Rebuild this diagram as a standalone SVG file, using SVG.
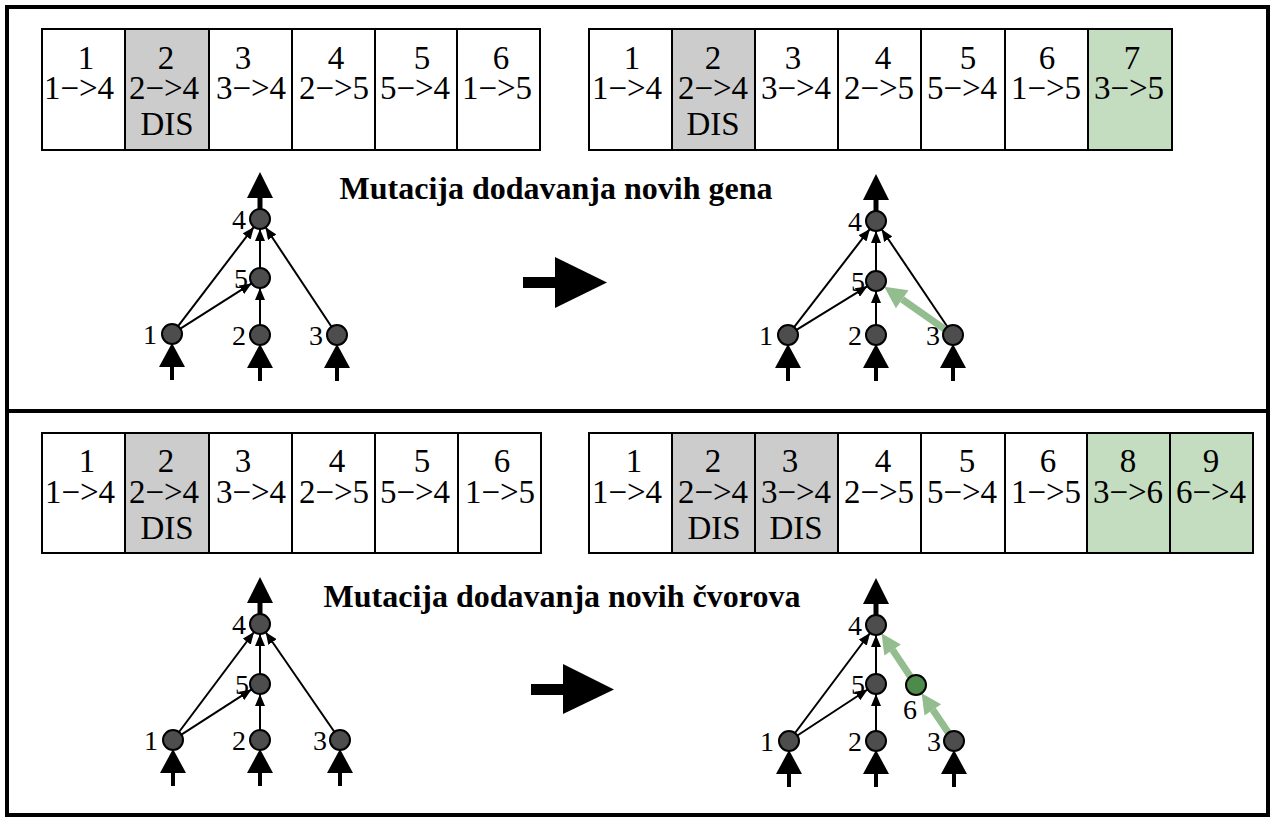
<svg xmlns="http://www.w3.org/2000/svg" width="1277" height="824" viewBox="0 0 1277 824">
<style>
.frame{fill:none;stroke:#000;stroke-width:4}
.cell{fill:#fff;stroke:#000;stroke-width:2}
.dis{fill:#cccccc;stroke:#000;stroke-width:2}
.new{fill:#c4dcc0;stroke:#000;stroke-width:2}
.ct{font-family:"Liberation Serif","Times New Roman",serif;font-size:33px;text-anchor:middle;fill:#000}
.title{font-family:"Liberation Serif","Times New Roman",serif;font-size:32px;font-weight:bold;text-anchor:middle;fill:#000}
.lbl{font-family:"Liberation Serif","Times New Roman",serif;font-size:28px;text-anchor:end;fill:#000}
.node{fill:#4d4d4d;stroke:#000;stroke-width:2}
.gnode{fill:#4e8a4a;stroke:#000;stroke-width:2}
.edge{stroke:#000;stroke-width:2;fill:none;marker-end:url(#ah)}
.gedge{stroke:#93bd8f;stroke-width:7;fill:none}
.ghead{fill:#93bd8f}
.blk{fill:#000}
</style>
<defs>
<marker id="ah" markerUnits="userSpaceOnUse" markerWidth="12" markerHeight="10" refX="12" refY="5" orient="auto">
<path d="M0,0 L12,5 L0,10 z" fill="#000"/>
</marker>
</defs>
<rect width="1277" height="824" fill="#fff"/>
<rect class="frame" x="7" y="7" width="1261" height="404"/>
<rect class="frame" x="7" y="411" width="1261" height="404"/>

<!-- top-left table -->
<g id="table-tl">
<rect class="cell" x="42" y="29" width="83" height="121"/>
<rect class="dis" x="125" y="29" width="84" height="121"/>
<rect class="cell" x="209" y="29" width="83" height="121"/>
<rect class="cell" x="292" y="29" width="83" height="121"/>
<rect class="cell" x="375" y="29" width="82" height="121"/>
<rect class="cell" x="457" y="29" width="83" height="121"/>
<text class="ct" x="86" y="69">1</text><text class="ct" x="79" y="99">1−&gt;4</text>
<text class="ct" x="166" y="69">2</text><text class="ct" x="164" y="99">2−&gt;4</text><text class="ct" x="167" y="135">DIS</text>
<text class="ct" x="243" y="69">3</text><text class="ct" x="251" y="99">3−&gt;4</text>
<text class="ct" x="336" y="69">4</text><text class="ct" x="334" y="99">2−&gt;5</text>
<text class="ct" x="422" y="69">5</text><text class="ct" x="415" y="99">5−&gt;4</text>
<text class="ct" x="501" y="69">6</text><text class="ct" x="497" y="99">1−&gt;5</text>
</g>

<!-- top-right table -->
<g id="table-tr">
<rect class="cell" x="589" y="29" width="83" height="121"/>
<rect class="dis" x="672" y="29" width="83" height="121"/>
<rect class="cell" x="755" y="29" width="83" height="121"/>
<rect class="cell" x="838" y="29" width="83" height="121"/>
<rect class="cell" x="921" y="29" width="84" height="121"/>
<rect class="cell" x="1005" y="29" width="83" height="121"/>
<rect class="new" x="1088" y="29" width="84" height="121"/>
<text class="ct" x="632" y="69">1</text><text class="ct" x="627" y="99">1−&gt;4</text>
<text class="ct" x="713" y="69">2</text><text class="ct" x="713" y="99">2−&gt;4</text><text class="ct" x="713" y="135">DIS</text>
<text class="ct" x="793" y="69">3</text><text class="ct" x="796" y="99">3−&gt;4</text>
<text class="ct" x="883" y="69">4</text><text class="ct" x="879" y="99">2−&gt;5</text>
<text class="ct" x="968" y="69">5</text><text class="ct" x="962" y="99">5−&gt;4</text>
<text class="ct" x="1047" y="69">6</text><text class="ct" x="1046" y="99">1−&gt;5</text>
<text class="ct" x="1132" y="69">7</text><text class="ct" x="1129" y="99">3−&gt;5</text>
</g>

<!-- bottom-left table -->
<g id="table-bl">
<rect class="cell" x="42" y="433" width="83" height="120"/>
<rect class="dis" x="125" y="433" width="84" height="120"/>
<rect class="cell" x="209" y="433" width="83" height="120"/>
<rect class="cell" x="292" y="433" width="83" height="120"/>
<rect class="cell" x="375" y="433" width="83" height="120"/>
<rect class="cell" x="458" y="433" width="83" height="120"/>
<text class="ct" x="87" y="472">1</text><text class="ct" x="80" y="503">1−&gt;4</text>
<text class="ct" x="166" y="472">2</text><text class="ct" x="164" y="503">2−&gt;4</text><text class="ct" x="167" y="539">DIS</text>
<text class="ct" x="243" y="472">3</text><text class="ct" x="251" y="503">3−&gt;4</text>
<text class="ct" x="337" y="472">4</text><text class="ct" x="334" y="503">2−&gt;5</text>
<text class="ct" x="422" y="472">5</text><text class="ct" x="415" y="503">5−&gt;4</text>
<text class="ct" x="502" y="472">6</text><text class="ct" x="500" y="503">1−&gt;5</text>
</g>

<!-- bottom-right table -->
<g id="table-br">
<rect class="cell" x="589" y="433" width="83" height="120"/>
<rect class="dis" x="672" y="433" width="83" height="120"/>
<rect class="dis" x="755" y="433" width="83" height="120"/>
<rect class="cell" x="838" y="433" width="83" height="120"/>
<rect class="cell" x="921" y="433" width="84" height="120"/>
<rect class="cell" x="1005" y="433" width="82" height="120"/>
<rect class="new" x="1087" y="433" width="83" height="120"/>
<rect class="new" x="1170" y="433" width="83" height="120"/>
<text class="ct" x="634" y="472">1</text><text class="ct" x="627" y="503">1−&gt;4</text>
<text class="ct" x="713" y="472">2</text><text class="ct" x="713" y="503">2−&gt;4</text><text class="ct" x="714" y="539">DIS</text>
<text class="ct" x="790" y="472">3</text><text class="ct" x="796" y="503">3−&gt;4</text><text class="ct" x="796" y="539">DIS</text>
<text class="ct" x="883" y="472">4</text><text class="ct" x="879" y="503">2−&gt;5</text>
<text class="ct" x="967" y="472">5</text><text class="ct" x="962" y="503">5−&gt;4</text>
<text class="ct" x="1048" y="472">6</text><text class="ct" x="1046" y="503">1−&gt;5</text>
<text class="ct" x="1128" y="472">8</text><text class="ct" x="1128" y="503">3−&gt;6</text>
<text class="ct" x="1211" y="472">9</text><text class="ct" x="1211" y="503">6−&gt;4</text>
</g>

<text class="title" x="556" y="199">Mutacija dodavanja novih gena</text>
<text class="title" x="562" y="607">Mutacija dodavanja novih čvorova</text>

<!-- big transition arrows -->
<g id="arrow-top"><rect class="blk" x="523" y="277" width="34" height="11"/><polygon class="blk" points="555,257 607,282.5 555,308"/></g>
<g id="arrow-bottom"><rect class="blk" x="531" y="684" width="34" height="11"/><polygon class="blk" points="563,664 614,689.5 563,714"/></g>

<!-- connectors -->
<g id="connectors">
<line class="edge" x1="178.1" y1="326.1" x2="253.9" y2="226.9"/>
<line class="edge" x1="180.4" y1="328.6" x2="251.6" y2="283.4"/>
<line class="edge" x1="260" y1="325" x2="260" y2="288"/>
<line class="edge" x1="260" y1="268" x2="260" y2="229"/>
<line class="edge" x1="331.5" y1="326.7" x2="265.5" y2="227.3"/>
<line class="edge" x1="794.1" y1="327.1" x2="869.9" y2="228.9"/>
<line class="edge" x1="796.5" y1="329.8" x2="867.5" y2="286.2"/>
<line class="edge" x1="876" y1="325" x2="876" y2="291"/>
<line class="edge" x1="876" y1="271" x2="876" y2="231"/>
<line class="edge" x1="947.4" y1="326.7" x2="881.6" y2="229.3"/>
<line class="gedge" x1="945" y1="329.4" x2="902.2" y2="299.3"/>
<polygon class="ghead" points="884.2,286.7 908.5,290.3 895.9,308.3"/>
<line class="edge" x1="179" y1="732" x2="254" y2="632"/>
<line class="edge" x1="181.4" y1="734.6" x2="251.6" y2="689.4"/>
<line class="edge" x1="260" y1="730" x2="260" y2="694"/>
<line class="edge" x1="260" y1="674" x2="260" y2="634"/>
<line class="edge" x1="334.3" y1="731.8" x2="265.7" y2="632.2"/>
<line class="edge" x1="795" y1="733" x2="870" y2="633"/>
<line class="edge" x1="797.4" y1="735.5" x2="867.6" y2="689.5"/>
<line class="edge" x1="876" y1="731" x2="876" y2="694"/>
<line class="edge" x1="876" y1="674" x2="876" y2="635"/>
<line class="gedge" x1="948.4" y1="732.7" x2="932.8" y2="709.8"/>
<polygon class="ghead" points="921.6,693.3 941.1,704.2 924.5,715.4"/>
<line class="gedge" x1="910.5" y1="676.7" x2="892.6" y2="649.9"/>
<polygon class="ghead" points="881.5,633.3 900.9,644.4 884.3,655.5"/>
<g class="blk">
<polygon points="260,172 247,198 273,198"/><rect x="257.5" y="196" width="5" height="14"/>
<polygon points="172,343 159,367 185,367"/><rect x="170" y="366" width="4" height="14"/>
<polygon points="260,344 247,368 273,368"/><rect x="258" y="367" width="4" height="14"/>
<polygon points="337,344 324,368 350,368"/><rect x="335" y="367" width="4" height="14"/>
<polygon points="876,174 863,200 889,200"/><rect x="873.5" y="198" width="5" height="14"/>
<polygon points="788,344 775,368 801,368"/><rect x="786" y="367" width="4" height="14"/>
<polygon points="876,344 863,368 889,368"/><rect x="874" y="367" width="4" height="14"/>
<polygon points="953,344 940,368 966,368"/><rect x="951" y="367" width="4" height="14"/>
<polygon points="260,577 247,603 273,603"/><rect x="257.5" y="601" width="5" height="14"/>
<polygon points="173,749 160,773 186,773"/><rect x="171" y="772" width="4" height="14"/>
<polygon points="260,749 247,773 273,773"/><rect x="258" y="772" width="4" height="14"/>
<polygon points="340,749 327,773 353,773"/><rect x="338" y="772" width="4" height="14"/>
<polygon points="876,578 863,604 889,604"/><rect x="873.5" y="602" width="5" height="14"/>
<polygon points="789,750 776,774 802,774"/><rect x="787" y="773" width="4" height="14"/>
<polygon points="876,750 863,774 889,774"/><rect x="874" y="773" width="4" height="14"/>
<polygon points="954,750 941,774 967,774"/><rect x="952" y="773" width="4" height="14"/>
</g>
</g>

<g id="tl-n4"><circle class="node" cx="260" cy="219" r="10"/><text class="lbl" x="246" y="229">4</text></g>
<g id="tl-n5"><circle class="node" cx="260" cy="278" r="10"/><text class="lbl" x="248" y="288">5</text></g>
<g id="tl-n1"><circle class="node" cx="172" cy="334" r="10"/><text class="lbl" x="157" y="344">1</text></g>
<g id="tl-n2"><circle class="node" cx="260" cy="335" r="10"/><text class="lbl" x="246" y="345">2</text></g>
<g id="tl-n3"><circle class="node" cx="337" cy="335" r="10"/><text class="lbl" x="323" y="345">3</text></g>

<g id="tr-n4"><circle class="node" cx="876" cy="221" r="10"/><text class="lbl" x="862" y="231">4</text></g>
<g id="tr-n5"><circle class="node" cx="876" cy="281" r="10"/><text class="lbl" x="865" y="291">5</text></g>
<g id="tr-n1"><circle class="node" cx="788" cy="335" r="10"/><text class="lbl" x="773" y="345">1</text></g>
<g id="tr-n2"><circle class="node" cx="876" cy="335" r="10"/><text class="lbl" x="862" y="345">2</text></g>
<g id="tr-n3"><circle class="node" cx="953" cy="335" r="10"/><text class="lbl" x="940" y="345">3</text></g>

<g id="bl-n4"><circle class="node" cx="260" cy="624" r="10"/><text class="lbl" x="246" y="634">4</text></g>
<g id="bl-n5"><circle class="node" cx="260" cy="684" r="10"/><text class="lbl" x="249" y="694">5</text></g>
<g id="bl-n1"><circle class="node" cx="173" cy="740" r="10"/><text class="lbl" x="158" y="750">1</text></g>
<g id="bl-n2"><circle class="node" cx="260" cy="740" r="10"/><text class="lbl" x="246" y="750">2</text></g>
<g id="bl-n3"><circle class="node" cx="340" cy="740" r="10"/><text class="lbl" x="327" y="750">3</text></g>

<g id="br-n4"><circle class="node" cx="876" cy="625" r="10"/><text class="lbl" x="862" y="635">4</text></g>
<g id="br-n5"><circle class="node" cx="876" cy="684" r="10"/><text class="lbl" x="865" y="694">5</text></g>
<g id="br-n6"><circle class="gnode" cx="916" cy="685" r="10"/><text class="lbl" x="917" y="719">6</text></g>
<g id="br-n1"><circle class="node" cx="789" cy="741" r="10"/><text class="lbl" x="774" y="751">1</text></g>
<g id="br-n2"><circle class="node" cx="876" cy="741" r="10"/><text class="lbl" x="862" y="751">2</text></g>
<g id="br-n3"><circle class="node" cx="954" cy="741" r="10"/><text class="lbl" x="941" y="751">3</text></g>
</svg>
